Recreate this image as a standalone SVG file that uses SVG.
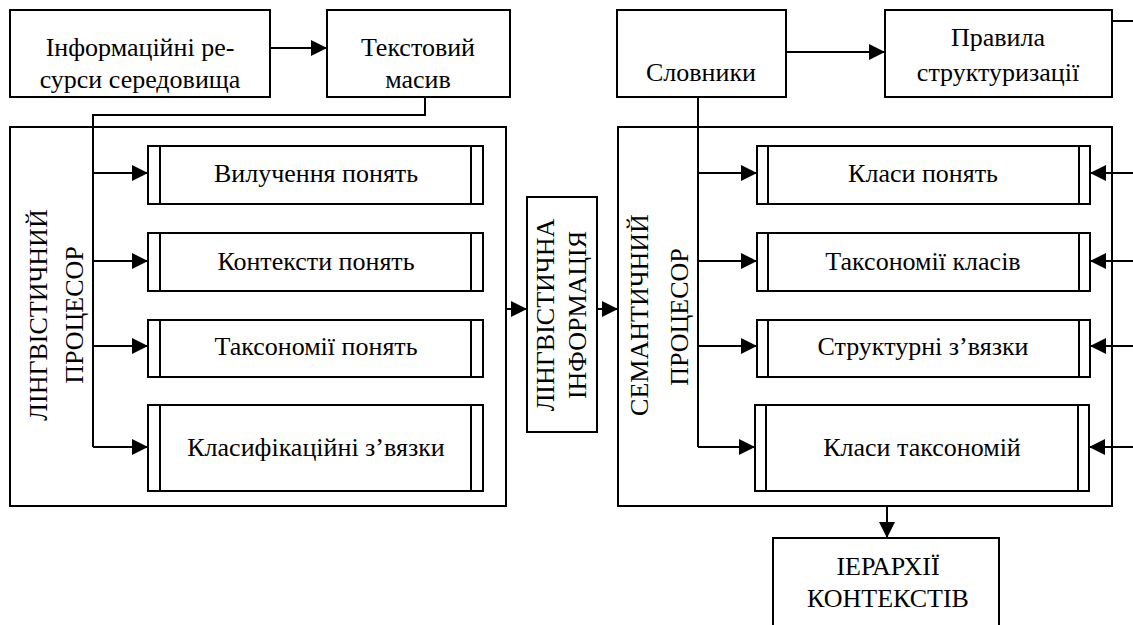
<svg xmlns="http://www.w3.org/2000/svg" width="1133" height="625" viewBox="0 0 1133 625">
<style>
.b{fill:#fff;stroke:#000;stroke-width:2}
.f{fill:none;stroke:#000;stroke-width:2}
.l{fill:none;stroke:#000;stroke-width:2}
.t{font-family:'Liberation Serif','Times New Roman',serif;font-size:26px;fill:#000;text-anchor:middle}
</style>
<defs>
<marker id="ah" markerUnits="userSpaceOnUse" markerWidth="18" markerHeight="16" refX="16" refY="8" orient="auto">
<path d="M0,0 L16,8 L0,16 z" fill="#000"/>
</marker>
</defs>
<g id="connectors">
<line class="l" x1="270" y1="48" x2="327" y2="48" marker-end="url(#ah)"/>
<polyline class="l" points="425,97 425,115 93,115 93,447"/>
<line class="l" x1="93" y1="173" x2="148" y2="173" marker-end="url(#ah)"/>
<line class="l" x1="93" y1="261" x2="148" y2="261" marker-end="url(#ah)"/>
<line class="l" x1="93" y1="346" x2="148" y2="346" marker-end="url(#ah)"/>
<line class="l" x1="93" y1="447" x2="148" y2="447" marker-end="url(#ah)"/>
<line class="l" x1="506" y1="309" x2="527" y2="309" marker-end="url(#ah)"/>
<line class="l" x1="597" y1="309" x2="618" y2="309" marker-end="url(#ah)"/>
<line class="l" x1="786" y1="52" x2="885" y2="52" marker-end="url(#ah)"/>
<polyline class="l" points="698,97 698,447"/>
<line class="l" x1="698" y1="173" x2="757" y2="173" marker-end="url(#ah)"/>
<line class="l" x1="698" y1="261" x2="757" y2="261" marker-end="url(#ah)"/>
<line class="l" x1="698" y1="346" x2="757" y2="346" marker-end="url(#ah)"/>
<line class="l" x1="698" y1="447" x2="755" y2="447" marker-end="url(#ah)"/>
<line class="l" x1="1112" y1="21" x2="1133" y2="21"/>
<line class="l" x1="1133" y1="173" x2="1090" y2="173" marker-end="url(#ah)"/>
<line class="l" x1="1133" y1="261" x2="1090" y2="261" marker-end="url(#ah)"/>
<line class="l" x1="1133" y1="346" x2="1090" y2="346" marker-end="url(#ah)"/>
<line class="l" x1="1133" y1="447" x2="1089" y2="447" marker-end="url(#ah)"/>
<line class="l" x1="887" y1="506" x2="887" y2="538" marker-end="url(#ah)"/>
</g>
<g id="info-resources">
<rect class="b" x="10" y="10" width="260" height="87"/>
<text class="t" x="140" y="56">Інформаційні ре-</text>
<text class="t" x="140" y="88">сурси середовища</text>
</g>
<g id="text-array">
<rect class="b" x="327" y="10" width="183" height="87"/>
<text class="t" x="418" y="56">Текстовий</text>
<text class="t" x="418" y="88">масив</text>
</g>
<g id="dictionaries">
<rect class="b" x="617" y="10" width="169" height="87"/>
<text class="t" x="701" y="81">Словники</text>
</g>
<g id="rules">
<rect class="b" x="885" y="10" width="227" height="87"/>
<text class="t" x="998" y="46">Правила</text>
<text class="t" x="998" y="81">структуризації</text>
</g>
<g id="ling-processor">
<rect class="f" x="10" y="127" width="496" height="379"/>
<text class="t" transform="translate(47,315) rotate(-90)">ЛІНГВІСТИЧНИЙ</text>
<text class="t" transform="translate(83,315) rotate(-90)">ПРОЦЕСОР</text>
</g>
<g id="ling-1">
<rect class="b" x="148" y="146" width="335" height="58"/>
<line class="l" x1="160" y1="146" x2="160" y2="204"/><line class="l" x1="471" y1="146" x2="471" y2="204"/>
<text class="t" x="316" y="182">Вилучення понять</text>
</g>
<g id="ling-2">
<rect class="b" x="148" y="233" width="335" height="58"/>
<line class="l" x1="160" y1="233" x2="160" y2="291"/><line class="l" x1="471" y1="233" x2="471" y2="291"/>
<text class="t" x="316" y="270">Контексти понять</text>
</g>
<g id="ling-3">
<rect class="b" x="148" y="320" width="335" height="57"/>
<line class="l" x1="160" y1="320" x2="160" y2="377"/><line class="l" x1="471" y1="320" x2="471" y2="377"/>
<text class="t" x="316" y="355">Таксономії понять</text>
</g>
<g id="ling-4">
<rect class="b" x="148" y="405" width="335" height="86"/>
<line class="l" x1="160" y1="405" x2="160" y2="491"/><line class="l" x1="471" y1="405" x2="471" y2="491"/>
<text class="t" x="316" y="456">Класифікаційні з’вязки</text>
</g>
<g id="ling-info">
<rect class="b" x="527" y="197" width="70" height="235"/>
<text class="t" transform="translate(554,315) rotate(-90)">ЛІНГВІСТИЧНА</text>
<text class="t" transform="translate(586,315) rotate(-90)">ІНФОРМАЦІЯ</text>
</g>
<g id="sem-processor">
<rect class="f" x="618" y="127" width="494" height="379"/>
<text class="t" transform="translate(648,315) rotate(-90)">СЕМАНТИЧНИЙ</text>
<text class="t" transform="translate(688,317) rotate(-90)">ПРОЦЕСОР</text>
</g>
<g id="sem-1">
<rect class="b" x="757" y="146" width="333" height="58"/>
<line class="l" x1="768" y1="146" x2="768" y2="204"/><line class="l" x1="1079" y1="146" x2="1079" y2="204"/>
<text class="t" x="923" y="182">Класи понять</text>
</g>
<g id="sem-2">
<rect class="b" x="757" y="233" width="333" height="58"/>
<line class="l" x1="768" y1="233" x2="768" y2="291"/><line class="l" x1="1079" y1="233" x2="1079" y2="291"/>
<text class="t" x="923" y="270">Таксономії класів</text>
</g>
<g id="sem-3">
<rect class="b" x="757" y="320" width="333" height="57"/>
<line class="l" x1="768" y1="320" x2="768" y2="377"/><line class="l" x1="1079" y1="320" x2="1079" y2="377"/>
<text class="t" x="923" y="355">Структурні з’вязки</text>
</g>
<g id="sem-4">
<rect class="b" x="755" y="405" width="334" height="86"/>
<line class="l" x1="766" y1="405" x2="766" y2="491"/><line class="l" x1="1078" y1="405" x2="1078" y2="491"/>
<text class="t" x="922" y="456">Класи таксономій</text>
</g>
<g id="hierarchies">
<rect class="b" x="773" y="538" width="226" height="90"/>
<text class="t" x="888" y="575">ІЕРАРХІЇ</text>
<text class="t" x="888" y="607">КОНТЕКСТІВ</text>
</g>
</svg>
